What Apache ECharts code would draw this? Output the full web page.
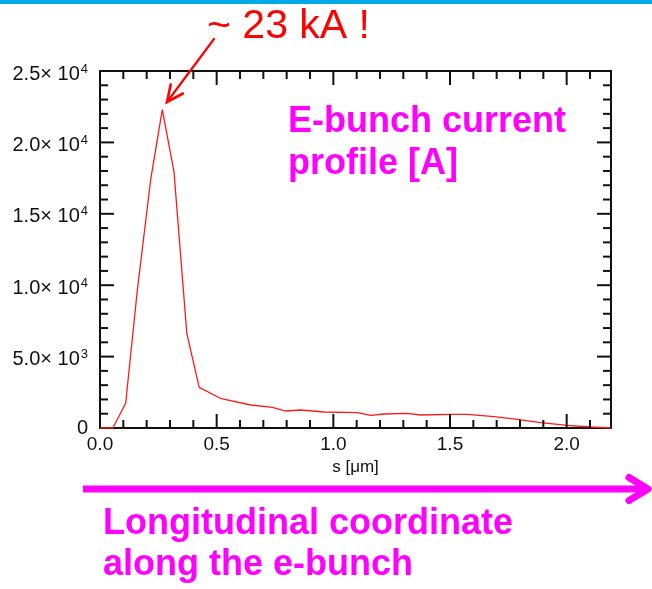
<!DOCTYPE html>
<html>
<head>
<meta charset="utf-8">
<title>E-bunch current profile</title>
<script src="https://cdn.jsdelivr.net/npm/echarts@6.0.0/dist/echarts.min.js"></script>
<style>
  html, body { margin: 0; padding: 0; background: #ffffff; }
  #chart { width: 652px; height: 589px; }
</style>
</head>
<body>
<div id="chart"></div>
<script>
// Longitudinal position along the bunch, s [µm]
const sValues = [0, 0.055, 0.11, 0.16, 0.217, 0.267, 0.317, 0.372, 0.425, 0.52,
  0.646, 0.739, 0.796, 0.86, 0.96, 1.103, 1.16, 1.217, 1.317, 1.375,
  1.503, 1.575, 1.689, 1.789, 1.889, 2.003, 2.103, 2.19];
// Bunch current [A] at each position
const currentValues = [0, 0, 1730, 9660, 17370, 22300, 17950, 6630, 2850, 2050,
  1610, 1450, 1190, 1260, 1120, 1070, 890, 980, 1030, 910,
  960, 960, 790, 610, 370, 190, 70, 0];

// Tick labels of the current axis: mantissa and power of ten
const yTickMantissa = ['0', '5.0', '1.0', '1.5', '2.0', '2.5'];
const yTickExponent = ['', '3', '4', '4', '4', '4'];
// Tick labels of the position axis
const xTickLabels = ['0.0', '0.5', '1.0', '1.5', '2.0'];

// Tick positions on the frame (long and short ticks)
const xMajorTicks = [0.5, 1.0, 1.5, 2.0];
const xMinorTicks = [0.1, 0.2, 0.3, 0.4, 0.6, 0.7, 0.8, 0.9, 1.1, 1.2, 1.3, 1.4,
  1.6, 1.7, 1.8, 1.9, 2.1];
const yMajorTicks = [5000, 10000, 15000, 20000];
const yMinorTicks = [1000, 2000, 3000, 4000, 6000, 7000, 8000, 9000, 11000, 12000,
  13000, 14000, 16000, 17000, 18000, 19000, 21000, 22000, 23000, 24000];

const X_MIN = 0, X_MAX = 2.19, Y_MIN = 0, Y_MAX = 25000;

const FONT = '"Liberation Sans", Arial, Helvetica, sans-serif';
const INK = '#111111';
const MAGENTA = '#ff00ff';

const seriesData = sValues.map((s, i) => [s, currentValues[i]]);

// Inward ticks on the bottom and top edges at a given s
function xTickRenderer(len) {
  return function (params, api) {
    const x = api.value(0);
    const b = api.coord([x, Y_MIN]);
    const t = api.coord([x, Y_MAX]);
    const st = { stroke: INK, lineWidth: 2 };
    return {
      type: 'group',
      children: [
        { type: 'line', shape: { x1: b[0], y1: b[1], x2: b[0], y2: b[1] - len }, style: st },
        { type: 'line', shape: { x1: t[0], y1: t[1], x2: t[0], y2: t[1] + len }, style: st }
      ]
    };
  };
}

// Inward ticks on the left and right edges at a given current
function yTickRenderer(len) {
  return function (params, api) {
    const y = api.value(1);
    const l = api.coord([X_MIN, y]);
    const r = api.coord([X_MAX, y]);
    const st = { stroke: INK, lineWidth: 2 };
    return {
      type: 'group',
      children: [
        { type: 'line', shape: { x1: l[0], y1: l[1], x2: l[0] + len, y2: l[1] }, style: st },
        { type: 'line', shape: { x1: r[0], y1: r[1], x2: r[0] - len, y2: r[1] }, style: st }
      ]
    };
  };
}

function tickSeries(data, renderer) {
  return {
    type: 'custom',
    data: data,
    encode: { x: 0, y: 1 },
    renderItem: renderer,
    clip: false,
    silent: true,
    z: 4
  };
}

const option = {
  backgroundColor: '#ffffff',
  animation: false,
  grid: {
    left: 100, right: 41, top: 71, bottom: 161, containLabel: false, outerBoundsMode: 'none',
    show: true, borderColor: INK, borderWidth: 2, backgroundColor: 'transparent'
  },
  xAxis: {
    type: 'value', min: X_MIN, max: X_MAX, interval: 0.5,
    axisLine: { show: false },
    axisTick: { show: false },
    splitLine: { show: false },
    axisLabel: {
      show: true, margin: 7, fontSize: 19, color: INK, fontFamily: FONT,
      showMaxLabel: false,
      formatter: v => xTickLabels[Math.round(v / 0.5)] || ''
    },
    name: 's [\u03bcm]',
    nameLocation: 'middle',
    nameGap: 28,
    nameTextStyle: { fontSize: 17, color: INK, fontFamily: FONT }
  },
  yAxis: {
    type: 'value', min: Y_MIN, max: Y_MAX, interval: 5000,
    axisLine: { show: false },
    axisTick: { show: false },
    splitLine: { show: false },
    axisLabel: {
      show: true, margin: 12, color: INK, fontFamily: FONT,
      formatter: v => {
        const i = Math.round(v / 5000);
        if (!yTickExponent[i]) return '{z|' + yTickMantissa[i] + '}';
        return '{m|' + yTickMantissa[i] + '\u00d7 10}{s|' + yTickExponent[i] + '}';
      },
      rich: {
        z: { fontSize: 20, lineHeight: 20, color: INK, fontFamily: FONT },
        m: { fontSize: 20, lineHeight: 20, padding: [6, 0, 0, 0], color: INK, fontFamily: FONT },
        s: { fontSize: 13, lineHeight: 13, padding: [0, 0, 4, 1], color: INK, fontFamily: FONT }
      }
    }
  },
  series: [
    {
      type: 'line',
      data: seriesData,
      showSymbol: false,
      symbol: 'none',
      smooth: false,
      lineStyle: { color: '#ff1a1a', width: 1.3 },
      z: 3
    },
    tickSeries(xMajorTicks.map(v => [v, Y_MIN]), xTickRenderer(14)),
    tickSeries(xMinorTicks.map(v => [v, Y_MIN]), xTickRenderer(8)),
    tickSeries(yMajorTicks.map(v => [X_MIN, v]), yTickRenderer(14)),
    tickSeries(yMinorTicks.map(v => [X_MIN, v]), yTickRenderer(8))
  ],
  graphic: [
    // header strip
    { type: 'rect', shape: { x: 0, y: 0, width: 652, height: 4 }, style: { fill: '#00a9e6' } },
    // peak annotation
    { type: 'text', style: { text: '~ 23 kA !', x: 207, y: 27, font: '41px ' + FONT, fill: '#ff0000',
        textAlign: 'left', textVerticalAlign: 'middle', align: 'left', verticalAlign: 'middle' } },
    { type: 'line', shape: { x1: 214, y1: 39, x2: 167, y2: 102 },
      style: { stroke: '#ff0000', lineWidth: 2.2, lineCap: 'round' } },
    { type: 'polyline', shape: { points: [[170.7, 84.4], [167, 102], [182.9, 93.5]] },
      style: { stroke: '#ff0000', lineWidth: 2.6, lineCap: 'round', lineJoin: 'miter', fill: null } },
    // plot caption
    { type: 'text', style: { text: 'E-bunch current', x: 288, y: 122.5, font: 'bold 36px ' + FONT, fill: MAGENTA,
        textAlign: 'left', textVerticalAlign: 'middle', align: 'left', verticalAlign: 'middle' } },
    { type: 'text', style: { text: 'profile [A]', x: 288, y: 164, font: 'bold 36px ' + FONT, fill: MAGENTA,
        textAlign: 'left', textVerticalAlign: 'middle', align: 'left', verticalAlign: 'middle' } },
    // direction arrow below the axis
    { type: 'line', shape: { x1: 83, y1: 489, x2: 645, y2: 489 },
      style: { stroke: MAGENTA, lineWidth: 7, lineCap: 'butt' } },
    { type: 'polyline', shape: { points: [[629, 477.5], [648, 489], [629, 500.5]] },
      style: { stroke: MAGENTA, lineWidth: 7, lineCap: 'round', lineJoin: 'round', fill: null } },
    { type: 'text', style: { text: 'Longitudinal coordinate', x: 103, y: 523.7, font: 'bold 36px ' + FONT, fill: MAGENTA,
        textAlign: 'left', textVerticalAlign: 'middle', align: 'left', verticalAlign: 'middle' } },
    { type: 'text', style: { text: 'along the e-bunch', x: 103, y: 565.5, font: 'bold 36px ' + FONT, fill: MAGENTA,
        textAlign: 'left', textVerticalAlign: 'middle', align: 'left', verticalAlign: 'middle' } }
  ]
};

const chart = echarts.init(document.getElementById('chart'), null, { renderer: 'canvas' });
chart.setOption(option);
</script>
</body>
</html>
